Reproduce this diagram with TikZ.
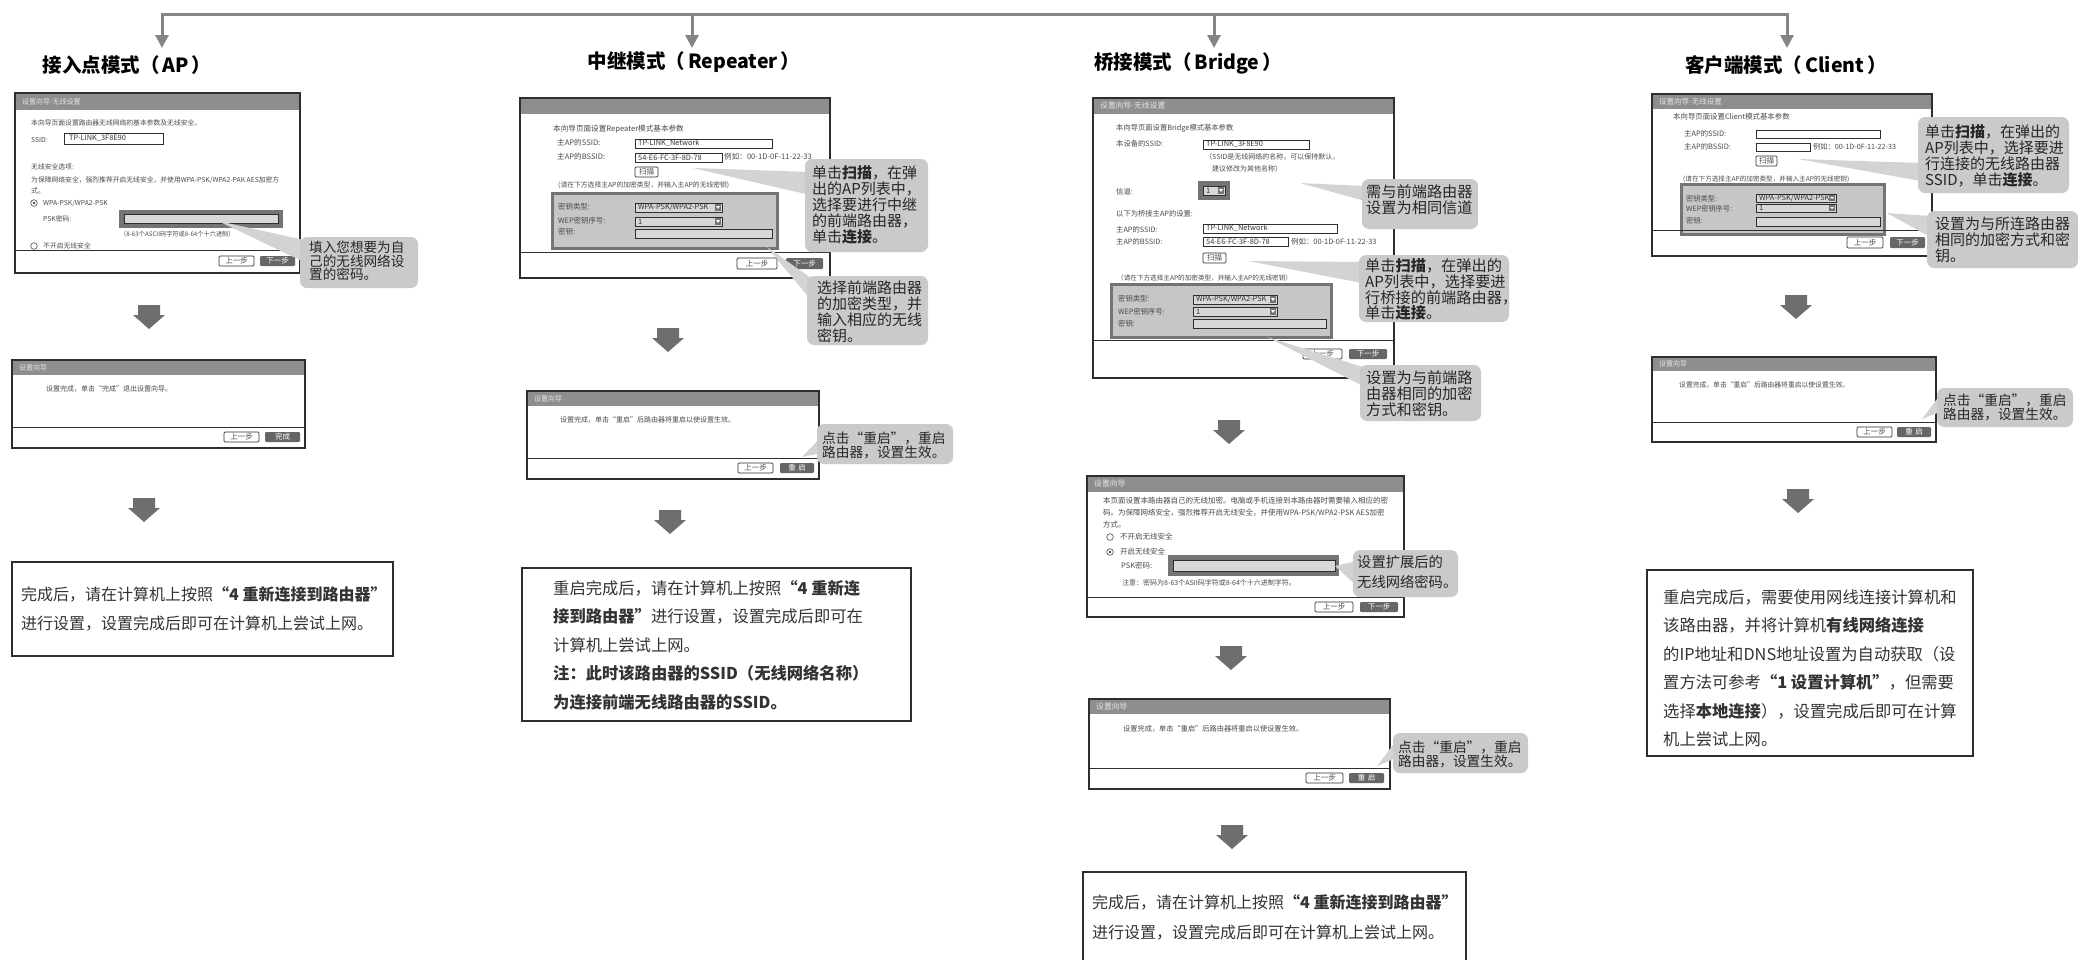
\documentclass[tikz,border=0pt]{standalone}
\usepackage{fontspec}
\setmainfont{Noto Sans CJK SC}
\usetikzlibrary{arrows.meta}
\definecolor{lineg}{HTML}{858585}
\definecolor{barg}{HTML}{8E8E8E}
\definecolor{frame}{HTML}{2E2E2E}
\definecolor{calg}{HTML}{CACACA}
\definecolor{wedg}{HTML}{D3D3D3}
\definecolor{txtg}{HTML}{4A4A4A}
\definecolor{fieldg}{HTML}{D8D8D8}
\definecolor{grpd}{HTML}{747474}
\definecolor{grpl}{HTML}{C6C6C6}
\definecolor{btng}{HTML}{666666}
\definecolor{barrowc}{HTML}{6E6E6E}
\tikzset{
  connl/.style={draw=lineg, line width=3pt, line cap=rect},
  conn/.style={draw=lineg, line width=3pt, -{Triangle[width=13pt,length=13pt]}},
  ttl/.style={inner sep=0pt, font=\bfseries\fontsize{19.5}{22}\selectfont},
  bart/.style={anchor=west, inner sep=0pt, text=white!90!black, font=\fontsize{#1}{#1}\selectfont},
  bart/.default={7.5},
  st/.style={anchor=west, inner sep=0pt, text=txtg, font=\fontsize{#1}{#1}\selectfont},
  st/.default={7},
  fld/.style={draw=frame, line width=0.6pt, fill=white},
  fldt/.style={anchor=west, inner sep=0pt, text=black!80, font=\fontsize{7.4}{7.4}\selectfont},
  btxl/.style={inner sep=0pt, text=txtg, font=\fontsize{7.5}{7.5}\selectfont},
  btxd/.style={inner sep=0pt, text=white, font=\fontsize{7.5}{7.5}\selectfont},
  calbox/.style={fill=calg, rounded corners=7pt},
  wedgeshape/.style={fill=wedg},
  ct/.style={anchor=north west, inner sep=0pt, align=left, text=black!85, font=\fontsize{#1}{16}\selectfont},
  ct/.default={15},
  tbox/.style={draw=frame, line width=1.6pt},
  bt/.style={anchor=north west, inner sep=0pt, align=left, text=black!80},
}
\newcommand\wizwin[6]{%
  \fill[white] (#1,#2) rectangle (#3,#4);
  \fill[barg] (#1,#2) rectangle (#3,#5);
  \draw[frame, line width=0.9pt] (#1,#6) -- (#3,#6);
  \draw[frame, line width=1.8pt] (#1,#2) rectangle (#3,#4);}
\newcommand\btnl[5]{%
  \draw[frame, line width=0.7pt, fill=white, rounded corners=1.2pt] (#1,#2) rectangle (#3,#4);
  \node[btxl] at ({(#1+#3)/2},{(#2+#4)/2}) {#5};}
\newcommand\btnd[5]{%
  \fill[btng, rounded corners=1.2pt] (#1,#2) rectangle (#3,#4);
  \node[btxd] at ({(#1+#3)/2},{(#2+#4)/2}) {#5};}
\newcommand\ddbox[6]{% x1 y1 x2 y2 fill text
  \draw[fld, fill=#5] (#1,#2) rectangle (#3,#4);
  \fill[grpd] ({#3-7},{#2+1}) rectangle ({#3-1},{#4-1});
  \fill[white] ({#3-6},{#2+3}) -- ({#3-2},{#2+3}) -- ({#3-4},{#4-3}) -- cycle;
  \node[fldt] at ({#1+3},{(#2+#4)/2}) {#6};}
\newcommand\grp[4]{%
  \fill[grpd] (#1,#2) rectangle (#3,#4);
  \fill[grpl] ({#1+3},{#2+3}) rectangle ({#3-3},{#4-3});}
\newcommand\radioon[2]{%
  \draw[txtg, line width=0.6pt, fill=white] (#1,#2) circle (3.3pt);
  \fill[txtg] (#1,#2) circle (1.4pt);}
\newcommand\radiooff[2]{%
  \draw[txtg, line width=0.6pt, fill=white] (#1,#2) circle (3.3pt);}
\newcommand\barr[2]{%
  \fill[barrowc] ({#1-11},#2) -- ({#1+11},#2) -- ({#1+11},{#2+10}) -- ({#1+16},{#2+10})
    -- (#1,{#2+24}) -- ({#1-16},{#2+10}) -- ({#1-11},{#2+10}) -- cycle;}
\begin{document}
\begin{tikzpicture}[x=1pt,y=-1pt]
\useasboundingbox[fill=white] (0,0) rectangle (2079,959);

% ===== top connector =====
\coordinate (jA) at (162,14);
\coordinate (jR) at (692,14);
\coordinate (jB) at (1214,14);
\coordinate (jC) at (1787,14);
\coordinate (tA) at (162,48);
\coordinate (tR) at (692,48);
\coordinate (tB) at (1214,48);
\coordinate (tC) at (1787,48);
\draw[connl] (jA) -- (jC);
\draw[conn] (jA) -- (tA);
\draw[conn] (jR) -- (tR);
\draw[conn] (jB) -- (tB);
\draw[conn] (jC) -- (tC);

\node[ttl] (titA) at (127,65) {接入点模式（\hspace{3pt}AP\hspace{3pt}）};
\node[ttl] (titR) at (694,62) {中继模式（\hspace{3pt}Repeater\hspace{3pt}）};
\node[ttl] (titB) at (1188,63) {桥接模式（\hspace{3pt}Bridge\hspace{3pt}）};
\node[ttl] (titC) at (1786,65) {客户端模式（\hspace{3pt}Client\hspace{3pt}）};

% ===== AP column =====
\wizwin{15}{93}{300}{273}{110}{250}
\node[bart=7] (a1bar) at (22,101.5) {设置向导-无线设置};
\node[st=6.8] (a1l1) at (31,123) {本向导页面设置路由器无线网络的基本参数及无线安全。};
\node[st=6.8] (a1l2) at (31,140) {SSID:};
\draw[fld] (64,133) rectangle (163,144);
\node[fldt] (a1ssid) at (69,138.5) {TP-LINK\_3F8E90};
\node[st=6.8] (a1l3) at (31,167) {无线安全选项:};
\node[st=6.8] (a1l4) at (31,180) {为保障网络安全，强烈推荐开启无线安全，并使用WPA-PSK/WPA2-PAK AES加密方};
\node[st=6.8] (a1l5) at (31,191) {式。};
\radioon{34}{203}
\node[st=6.8] (a1l6) at (43,203) {WPA-PSK/WPA2-PSK};
\node[st=6.8] (a1l7) at (43,219) {PSK密码:};
\fill[grpd] (119,210) rectangle (283,228);
\draw[fld, fill=fieldg] (124,214) rectangle (278,223);
\node[st=6.2] (a1l8) at (120,234) {（8-63个ASCII码字符或8-64个十六进制）};
\radiooff{34}{246}
\node[st=6.8] (a1l9) at (43,246) {不开启无线安全};
\btnl{219}{256}{254}{266}{上一步}
\btnd{260}{256}{295}{266}{下一步}
\fill[wedgeshape] (218,221) -- (304,240) -- (304,262) -- cycle;
\fill[calbox] (300,237) rectangle (418,288);
\node[ct=13.6, font=\fontsize{13.6}{13.5}\selectfont] (a1c) at (309,241) {填入您想要为自\\己的无线网络设\\置的密码。};

\barr{149}{305}

\wizwin{12}{360}{305}{448}{375}{427}
\node[bart=7] (a2bar) at (19,367.5) {设置向导};
\node[st=7] (a2l1) at (46,389) {设置完成，单击“完成”退出设置向导。};
\btnl{224}{432}{259}{442}{上一步}
\btnd{265}{432}{300}{442}{完成}

\barr{144}{498}

\draw[tbox] (12,562) rectangle (393,656);
\node[bt, font=\fontsize{16}{29}\selectfont] (a3t) at (21,586) {完成后，请在计算机上按照\textbf{“4 重新连接到路由器”}\\进行设置，设置完成后即可在计算机上尝试上网。};

% ===== Repeater column =====
\wizwin{520}{98}{830}{278}{114}{252}
\node[st=7.6] (r1l1) at (553,129) {本向导页面设置Repeater模式基本参数};
\node[st=7.6] (r1l2) at (557,143) {主AP的SSID:};
\draw[fld] (635,139) rectangle (772,148);
\node[fldt] (r1f1) at (638,143.5) {TP-LINK\_Network};
\node[st=7.6] (r1l3) at (557,157) {主AP的BSSID:};
\draw[fld] (635,153) rectangle (722,162);
\node[fldt] (r1f2) at (638,157.5) {54-E6-FC-3F-8D-78};
\node[st=7.6] (r1l4) at (724,157) {例如：00-1D-0F-11-22-33};
\btnl{635}{167}{658}{177}{扫描}
\node[st=6.8] (r1l5) at (558,185) {(请在下方选择主AP的加密类型，并输入主AP的无线密钥)};
\grp{551}{192}{779}{250}
\node[st=7.4] (r1l6) at (558,207) {密钥类型:};
\ddbox{635}{203}{722}{212}{fieldg}{WPA-PSK/WPA2-PSK}
\node[st=7.4] (r1l7) at (558,221) {WEP密钥序号:};
\ddbox{635}{217}{722}{226}{fieldg}{1}
\node[st=7.4] (r1l8) at (558,232) {密钥:};
\draw[fld, fill=fieldg] (635,229) rectangle (772,238);
\btnl{737}{258}{777}{269}{上一步}
\btnd{786}{258}{823}{269}{下一步}
\fill[wedgeshape] (693,168) -- (810,172) -- (810,195) -- cycle;
\fill[calbox] (805,159) rectangle (928,252);
\node[ct] (r1c) at (812,165.5) {单击\textbf{扫描}，在弹\\出的AP列表中，\\选择要进行中继\\的前端路由器，\\单击\textbf{连接}。};
\fill[wedgeshape] (767,247) -- (811,278) -- (811,300) -- cycle;
\fill[calbox] (807,276) rectangle (928,345);
\node[ct] (r2c) at (817,280.5) {选择前端路由器\\的加密类型，并\\输入相应的无线\\密钥。};

\barr{668}{328}

\wizwin{527}{391}{819}{479}{406}{458}
\node[bart=7] (r2bar) at (534,398.5) {设置向导};
\node[st=7] (r2l1) at (560,420) {设置完成，单击“重启”后路由器将重启以使设置生效。};
\btnl{738}{463}{773}{473}{上一步}
\btnd{780}{463}{814}{473}{重\,\,启}
\fill[wedgeshape] (802,457) -- (821,437) -- (821,453) -- cycle;
\fill[calbox] (817,424) rectangle (953,464);
\node[ct=13.7, font=\fontsize{13.7}{12.6}\selectfont] (r3c) at (822,432) {点击“重启”，重启\\路由器，设置生效。};

\barr{670}{510}

\draw[tbox] (522,568) rectangle (911,721);
\node[bt, font=\fontsize{16.3}{28.5}\selectfont] (r4t) at (553,580) {重启完成后，请在计算机上按照\textbf{“4 重新连}\\\textbf{接到路由器”}进行设置，设置完成后即可在\\计算机上尝试上网。\\\textbf{注：此时该路由器的SSID（无线网络名称）}\\\textbf{为连接前端无线路由器的SSID。}};

% ===== Bridge column =====
\wizwin{1093}{98}{1394}{378}{114}{340}
\node[bart=7.8] (b1bar) at (1100,106) {设置向导-无线设置};
\node[st=7.3] (b1l1) at (1116,128) {本向导页面设置Bridge模式基本参数};
\node[st=7.3] (b1l2) at (1116,144) {本设备的SSID:};
\draw[fld] (1203,140) rectangle (1309,149);
\node[fldt] (b1f1) at (1206,144.5) {TP-LINK\_3F8E90};
\node[st=7] (b1l3) at (1205,157) {（SSID是无线网络的名称，可以保持默认，};
\node[st=7] (b1l4) at (1212,169) {建议修改为其他名称）};
\node[st=7.3] (b1l5) at (1116,192) {信道:};
\fill[grpd] (1198,181) rectangle (1230,200);
\ddbox{1203}{186}{1225}{195}{fieldg}{1}
\node[st=7.3] (b1l6) at (1116,214) {以下为桥接主AP的设置:};
\node[st=7.3] (b1l7) at (1116,230) {主AP的SSID:};
\draw[fld] (1203,224) rectangle (1337,233);
\node[fldt] (b1f2) at (1206,228.5) {TP-LINK\_Network};
\node[st=7.3] (b1l8) at (1116,242) {主AP的BSSID:};
\draw[fld] (1203,237) rectangle (1288,246);
\node[fldt] (b1f3) at (1206,241.5) {54-E6-FC-3F-8D-78};
\node[st=7.4] (b1l9) at (1291,242) {例如：00-1D-0F-11-22-33};
\btnl{1203}{253}{1226}{263}{扫描}
\node[st=6.6] (b1l10) at (1117,278) {（请在下方选择主AP的加密类型，并输入主AP的无线密钥）};
\grp{1110}{283}{1333}{339}
\node[st=7.3] (b1l11) at (1118,299) {密钥类型:};
\ddbox{1193}{295}{1277}{304}{fieldg}{WPA-PSK/WPA2-PSK}
\node[st=7.3] (b1l12) at (1118,312) {WEP密钥序号:};
\ddbox{1193}{307}{1277}{316}{fieldg}{1}
\node[st=7.3] (b1l13) at (1118,324) {密钥:};
\draw[fld, fill=fieldg] (1193,319) rectangle (1326,328);
\btnl{1303}{349}{1342}{359}{上一步}
\btnd{1349}{349}{1387}{359}{下一步}
\fill[wedgeshape] (1300,183) -- (1365,186) -- (1365,201) -- cycle;
\fill[calbox] (1362,179) rectangle (1478,229);
\node[ct=15.2] (b1c) at (1366,184.4) {需与前端路由器\\设置为相同信道};
\fill[wedgeshape] (1248,261) -- (1362,262) -- (1362,283) -- cycle;
\fill[calbox] (1359,255) rectangle (1509,322);
\node[ct=15.2, font=\fontsize{15.2}{15.7}\selectfont] (b2c) at (1365,258.5) {单击\textbf{扫描}，在弹出的\\AP列表中，选择要进\\行桥接的前端路由器，\\单击\textbf{连接}。};
\fill[wedgeshape] (1267,337) -- (1363,367) -- (1363,386) -- cycle;
\fill[calbox] (1360,365) rectangle (1481,421);
\node[ct=15.2] (b3c) at (1366,370.5) {设置为与前端路\\由器相同的加密\\方式和密钥。};

\barr{1229}{420}

\wizwin{1087}{476}{1404}{617}{492}{597}
\node[bart=7.8] (b2bar) at (1094,484) {设置向导};
\node[st=7.5] (b2l1) at (1103,501) {本页面设置本路由器自己的无线加密。电脑或手机连接到本路由器时需要输入相应的密};
\node[st=7.5] (b2l2) at (1103,513) {码。为保障网络安全，强烈推荐开启无线安全，并使用WPA-PSK/WPA2-PSK AES加密};
\node[st=7.5] (b2l3) at (1103,525) {方式。};
\radiooff{1110}{537}
\node[st=7.5] (b2l4) at (1120,537) {不开启无线安全};
\radioon{1110}{552}
\node[st=7.5] (b2l5) at (1120,552) {开启无线安全};
\node[st=7.5] (b2l6) at (1121,566) {PSK密码:};
\fill[grpd] (1168,555) rectangle (1339,576);
\draw[fld, fill=fieldg] (1173,560) rectangle (1335,571);
\node[st=7] (b2l7) at (1122,583) {注意：密码为8-63个ASII码字符或8-64个十六进制字符。};
\btnl{1315}{602}{1353}{612}{上一步}
\btnd{1360}{602}{1398}{612}{下一步}
\fill[wedgeshape] (1335,566) -- (1356,561) -- (1356,585) -- cycle;
\fill[calbox] (1353,550) rectangle (1458,597);
\node[ct=14.3, font=\fontsize{14.3}{20.5}\selectfont] (b4c) at (1357,554.8) {设置扩展后的\\无线网络密码。};

\barr{1231}{646}

\wizwin{1089}{699}{1390}{789}{714}{768}
\node[bart=7.8] (b3bar) at (1096,706.5) {设置向导};
\node[st=7.2] (b3l1) at (1123,729) {设置完成，单击“重启”后路由器将重启以使设置生效。};
\btnl{1306}{773}{1343}{783}{上一步}
\btnd{1349}{773}{1384}{783}{重\,\,启}
\fill[wedgeshape] (1377,766) -- (1396,741) -- (1396,758) -- cycle;
\fill[calbox] (1393,733) rectangle (1528,773);
\node[ct=13.7, font=\fontsize{13.7}{12.6}\selectfont] (b5c) at (1398,740.2) {点击“重启”，重启\\路由器，设置生效。};

\barr{1232}{825}

\draw[tbox] (1083,962) -- (1083,872) -- (1466,872) -- (1466,962);
\node[bt, font=\fontsize{16}{30}\selectfont] (b6t) at (1092,894) {完成后，请在计算机上按照\textbf{“4 重新连接到路由器”}\\进行设置，设置完成后即可在计算机上尝试上网。};

% ===== Client column =====
\wizwin{1652}{94}{1932}{256}{109}{230}
\node[bart=7.5] (c1bar) at (1659,101.5) {设置向导-无线设置};
\node[st=7.4] (c1l1) at (1673,117) {本向导页面设置Client模式基本参数};
\node[st=7.4] (c1l2) at (1684,134) {主AP的SSID:};
\draw[fld] (1756,130) rectangle (1880,138);
\node[st=7.4] (c1l3) at (1684,147) {主AP的BSSID:};
\draw[fld] (1756,143) rectangle (1810,151);
\node[st=7.2] (c1l4) at (1813,147) {例如：00-1D-0F-11-22-33};
\btnl{1756}{156}{1777}{166}{扫描}
\node[st=6.6] (c1l5) at (1683,179) {(请在下方选择主AP的加密类型，并输入主AP的无线密钥)};
\grp{1680}{183}{1886}{236}
\node[st=7.2] (c1l6) at (1686,199) {密钥类型:};
\ddbox{1756}{194}{1836}{202}{fieldg}{WPA-PSK/WPA2-PSK}
\node[st=7.2] (c1l7) at (1686,209) {WEP密钥序号:};
\ddbox{1756}{204}{1836}{212}{fieldg}{1}
\node[st=7.2] (c1l8) at (1686,221) {密钥:};
\draw[fld, fill=fieldg] (1756,217) rectangle (1880,226);
\draw[frame, line width=0.9pt] (1652,230) -- (1932,230);
\btnl{1847}{237}{1883}{248}{上一步}
\btnd{1890}{237}{1925}{248}{下一步}
\fill[wedgeshape] (1798,159) -- (1921,163) -- (1921,181) -- cycle;
\fill[calbox] (1918,117) rectangle (2069,193);
\node[ct] (c1c) at (1925,124.5) {单击\textbf{扫描}，在弹出的\\AP列表中，选择要进\\行连接的无线路由器\\SSID，单击\textbf{连接}。};
\fill[wedgeshape] (1887,213) -- (1930,216) -- (1930,237) -- cycle;
\fill[calbox] (1927,211) rectangle (2078,268);
\node[ct] (c2c) at (1935,216.5) {设置为与所连路由器\\相同的加密方式和密\\钥。};

\barr{1796}{295}

\wizwin{1652}{357}{1936}{442}{371}{422}
\node[bart=7] (c2bar) at (1659,364) {设置向导};
\node[st=6.8] (c2l1) at (1679,385) {设置完成，单击“重启”后路由器将重启以使设置生效。};
\btnl{1857}{427}{1892}{437}{上一步}
\btnd{1897}{427}{1931}{437}{重\,\,启}
\fill[wedgeshape] (1922,419) -- (1940,395) -- (1940,412) -- cycle;
\fill[calbox] (1937,388) rectangle (2073,427);
\node[ct=13.7, font=\fontsize{13.7}{12.8}\selectfont] (c3c) at (1943,394) {点击“重启”，重启\\路由器，设置生效。};

\barr{1798}{489}

\draw[tbox] (1647,570) rectangle (1973,756);
\node[bt, font=\fontsize{16.3}{28.5}\selectfont] (c4t) at (1663,589) {重启完成后，需要使用网线连接计算机和\\该路由器，并将计算机\textbf{有线网络连接}\\的IP地址和DNS地址设置为自动获取（设\\置方法可参考\textbf{“1 设置计算机”}，但需要\\选择\textbf{本地连接}），设置完成后即可在计算\\机上尝试上网。};

\end{tikzpicture}
\end{document}
